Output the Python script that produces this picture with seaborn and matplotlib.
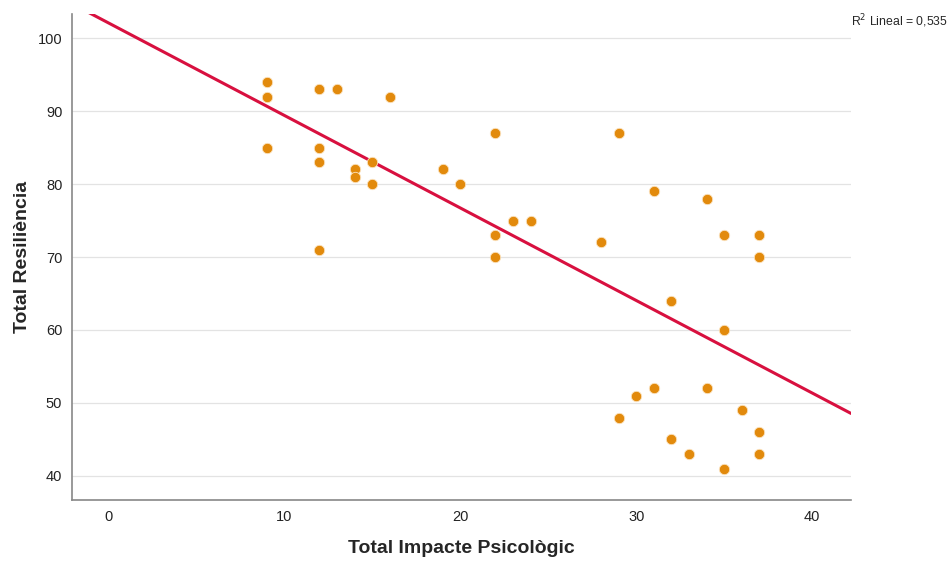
import matplotlib
matplotlib.use("Agg")
import matplotlib.pyplot as plt
import seaborn as sns
import pandas as pd

impacte = [9, 9, 9, 12, 13, 16, 12, 12, 14, 14, 15, 15, 12, 19, 20, 22, 29, 22, 22,
           23, 24, 28, 31, 34, 35, 37, 37, 32, 35, 29, 30, 31, 34, 36, 37, 37, 32, 33, 35]
resiliencia = [94, 92, 85, 93, 93, 92, 85, 83, 82, 81, 83, 80, 71, 82, 80, 87, 87, 73, 70,
               75, 75, 72, 79, 78, 73, 73, 70, 64, 60, 48, 51, 52, 52, 49, 46, 43, 45, 43, 41]
x_ticks = [0, 10, 20, 30, 40]
y_ticks = [40, 50, 60, 70, 80, 90, 100]

df = pd.DataFrame({"Total Impacte Psicològic": impacte, "Total Resiliència": resiliencia})

sns.set_style("white")
plt.rcParams["font.family"] = ["Liberation Sans", "DejaVu Sans"]

fig = plt.figure(figsize=(9.5, 5.62), dpi=100)
ax = fig.add_axes([0.0758, 0.1103, 0.8200, 0.8647])
ax.set_xlim(-2.05, 42.2)
ax.set_ylim(36.7, 103.3)

for yv in y_ticks:
    ax.axhline(yv, color="#e3e3e3", lw=0.9, zorder=0)

sns.regplot(data=df, x="Total Impacte Psicològic", y="Total Resiliència", ax=ax,
            ci=None, truncate=False,
            scatter_kws=dict(s=56, color="#E28A0C", edgecolors="#fbe3c0", linewidths=0.6, alpha=1, zorder=3),
            line_kws=dict(color="#D8103F", lw=2.2, zorder=2))

ax.set_xlim(-2.05, 42.2)
ax.set_ylim(36.7, 103.3)
ax.set_xticks(x_ticks)
ax.set_yticks(y_ticks)
ax.tick_params(axis="both", length=0, labelsize=10.5, colors="#222222")
ax.tick_params(axis="x", pad=7)
ax.tick_params(axis="y", pad=7)
for s in ["top", "right"]:
    ax.spines[s].set_visible(False)
for s in ["left", "bottom"]:
    ax.spines[s].set_color("#888888")
    ax.spines[s].set_linewidth(1.2)

ax.set_xlabel("Total Impacte Psicològic", fontsize=14, fontweight="bold", labelpad=12)
ax.set_ylabel("Total Resiliència", fontsize=14, fontweight="bold", labelpad=5)

fig.text(0.896, 0.962, r"R$^2$ Lineal = 0,535", fontsize=8.8, ha="left", va="center")

fig.savefig("out.png", dpi=100)
